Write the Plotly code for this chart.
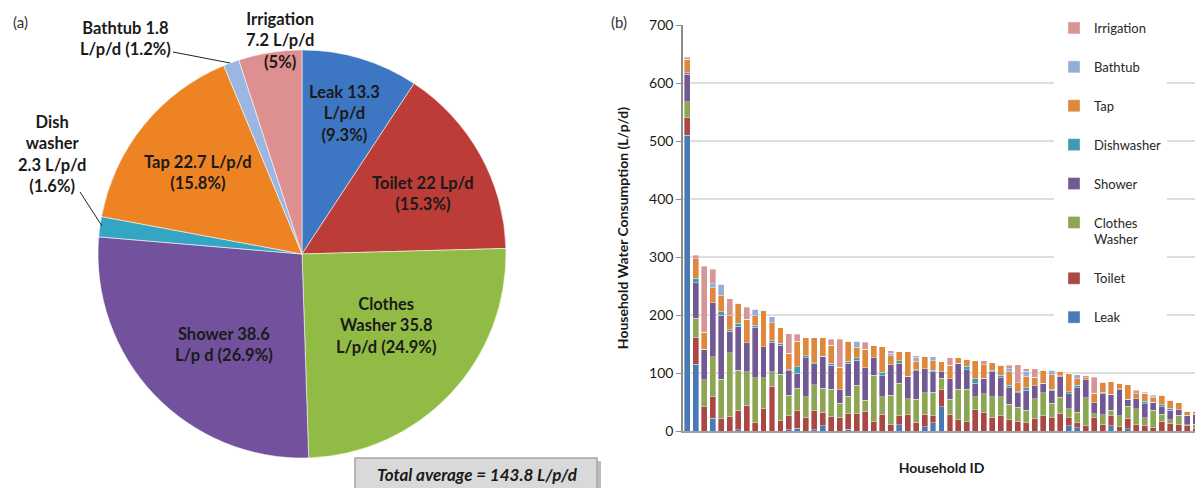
import plotly.graph_objects as go

# The page body adds an 8 px margin; the figure is sized so that it ends at the window edge
OFF = 8
W, H = 1203 - OFF, 488 - OFF

# ---------------- Pie data (a) ----------------
pie_labels = ["Leak", "Toilet", "Clothes Washer", "Shower", "Dishwasher", "Tap", "Bathtub", "Irrigation"]
pie_values = [13.3, 22.0, 35.8, 38.6, 2.3, 22.7, 1.8, 7.2]
pie_text = [
    "Leak 13.3<br>L/p/d<br>(9.3%)",
    "Toilet 22 Lp/d<br>(15.3%)",
    "Clothes<br>Washer 35.8<br>L/p/d (24.9%)",
    "Shower 38.6<br>L/p d (26.9%)",
    "Dish<br>washer<br>2.3 L/p/d<br>(1.6%)",
    "Tap 22.7 L/p/d<br>(15.8%)",
    "Bathtub 1.8<br>L/p/d (1.2%)",
    "Irrigation<br>7.2 L/p/d<br>(5%)",
]
total_text = "Total average = 143.8 L/p/d"

# ---------------- Bar data (b) ----------------
households = list(range(1, 62))
leak = [510, 115, 0, 22, 0, 0, 2, 0, 0, 0, 0, 0, 2, 5, 0,
        2, 9, 0, 0, 3, 0, 0, 0, 0, 0, 11, 0, 0, 7, 14,
        42, 0, 0, 0, 0, 0, 0, 0, 0, 0, 0, 0, 0, 0, 0,
        9, 6, 0, 0, 0, 9, 0, 4, 0, 0, 0, 0, 0, 0, 0, 0]
toilet = [30, 46, 42, 37, 21, 25, 34, 44, 14, 39, 77, 18, 24, 30, 23,
          33, 23, 25, 23, 27, 30, 34, 16, 29, 11, 15, 28, 15, 22, 12,
          29, 29, 19, 16, 37, 32, 23, 26, 19, 17, 14, 21, 26, 23, 30,
          14, 8, 9, 23, 11, 17, 7, 18, 11, 10, 6, 16, 13, 11, 9, 5]
clothes = [28, 33, 46, 69, 68, 110, 69, 58, 78, 53, 25, 80, 36, 39, 36,
           45, 42, 47, 25, 30, 49, 19, 80, 30, 51, 56, 28, 40, 37, 41,
           20, 26, 53, 56, 22, 32, 36, 33, 27, 24, 22, 35, 40, 25, 28,
           15, 18, 48, 7, 17, 10, 19, 21, 27, 13, 30, 13, 6, 16, 2, 7]
shower = [47, 62, 53, 93, 111, 37, 76, 50, 87, 53, 51, 50, 42, 26, 67,
          36, 55, 41, 23, 57, 43, 56, 30, 36, 52, 35, 38, 49, 41, 35,
          11, 35, 45, 34, 23, 27, 43, 33, 29, 25, 34, 22, 16, 22, 36,
          26, 43, 31, 19, 37, 27, 45, 12, 18, 24, 14, 13, 17, 10, 15, 17]
dishwasher = [3, 7, 0, 0, 6, 3, 5, 0, 3, 0, 3, 3, 2, 11, 4,
              2, 0, 4, 0, 3, 4, 0, 0, 6, 0, 4, 0, 2, 0, 3,
              0, 0, 0, 6, 8, 0, 3, 4, 4, 2, 5, 0, 0, 2, 1,
              4, 4, 0, 0, 2, 0, 2, 0, 0, 4, 0, 3, 3, 0, 1, 1]
tap = [23, 34, 29, 26, 28, 24, 34, 41, 17, 63, 31, 27, 28, 44, 31,
       43, 32, 31, 39, 35, 18, 32, 21, 44, 16, 16, 43, 14, 21, 16,
       17, 23, 9, 12, 31, 23, 13, 17, 23, 15, 19, 15, 23, 25, 8,
       32, 11, 4, 16, 17, 22, 9, 25, 8, 14, 7, 17, 14, 12, 7, 4]
bathtub = [0, 0, 0, 7, 19, 0, 0, 0, 11, 0, 10, 0, 0, 0, 0,
           0, 0, 0, 0, 0, 11, 0, 0, 0, 4, 0, 0, 7, 0, 7,
           0, 0, 0, 0, 0, 0, 0, 0, 5, 0, 9, 0, 0, 8, 0,
           0, 7, 0, 0, 0, 0, 0, 0, 0, 0, 2, 0, 0, 0, 0, 0]
irrigation = [3, 6, 114, 25, 0, 29, 0, 20, 0, 0, 0, 0, 34, 12, 0,
              0, 0, 10, 48, 0, 0, 12, 0, 0, 4, 0, 0, 3, 0, 0,
              0, 13, 0, 0, 0, 7, 0, 0, 6, 31, 4, 14, 0, 0, 0,
              0, 0, 3, 28, 0, 0, 0, 0, 6, 2, 3, 0, 0, 0, 0, 0]

series_names = ["Leak", "Toilet", "Clothes<br>Washer", "Shower", "Dishwasher", "Tap", "Bathtub", "Irrigation"]
series_values = [leak, toilet, clothes, shower, dishwasher, tap, bathtub, irrigation]
bar_colors = ["#4a7ab5", "#ab4744", "#8ca653", "#735994", "#3f9bb2", "#e0873e", "#94aed6", "#d79594"]
pie_colors = ["#3d76c2", "#bc3c38", "#92bb45", "#72529c", "#35a5c4", "#ee8323", "#9bb6e0", "#de8f8f"]

def px(x):
    # window pixel -> paper fraction
    return (x - OFF) / W

def py(y):
    return 1 - (y - OFF) / H

FONT = "Lato, 'Open Sans', sans-serif"
TXT = "#1a1a1a"

fig = go.Figure()

# Pie centred at (302, 254), radius 204 px (window pixels)
fig.add_trace(go.Pie(
    labels=pie_labels, values=pie_values, sort=False, direction="clockwise", rotation=0,
    textinfo="none", hoverinfo="label+value+percent", showlegend=False,
    marker=dict(colors=pie_colors, line=dict(color="rgba(255,255,255,0.55)", width=1)),
    domain=dict(x=[px(98), px(506)], y=[py(458), py(50)]),
))

n = len(series_names)
for i, (name, vals, col) in enumerate(zip(series_names, series_values, bar_colors)):
    fig.add_trace(go.Bar(
        x=households, y=vals, name=name, legendgroup=name, legendrank=n - i,
        marker=dict(color=col, line=dict(color="rgba(255,255,255,0.6)", width=0.6)),
        xaxis="x", yaxis="y",
    ))

# Pie labels
label_pos = [
    (344, 113), (423, 194), (386, 325), (224, 344),
    (52, 154), (198, 172), (125, 39), (280, 41),
]
annotations = []
for t, (x, y) in zip(pie_text, label_pos):
    annotations.append(dict(
        x=px(x), y=py(y), xref="paper", yref="paper", text="<b>" + t + "</b>",
        showarrow=False, xanchor="center", yanchor="middle",
        font=dict(family=FONT, size=16.5, color=TXT),
    ))

annotations += [
    dict(x=px(21), y=py(22), xref="paper", yref="paper", text="(a)", showarrow=False,
         xanchor="center", yanchor="middle",
         font=dict(family=FONT, size=15, color="#333333")),
    dict(x=px(619), y=py(22), xref="paper", yref="paper", text="(b)", showarrow=False,
         xanchor="center", yanchor="middle",
         font=dict(family=FONT, size=15, color="#333333")),
    dict(x=px(477), y=py(474), xref="paper", yref="paper", text="<b><i>" + total_text + "</i></b>",
         showarrow=False, xanchor="center", yanchor="middle",
         font=dict(family=FONT, size=17, color=TXT)),
]

shapes = [
    # leader lines
    dict(type="line", xref="paper", yref="paper", x0=px(173), y0=py(52), x1=px(230), y1=py(63),
         line=dict(color="#222222", width=1)),
    dict(type="line", xref="paper", yref="paper", x0=px(80), y0=py(192), x1=px(102), y1=py(226),
         line=dict(color="#222222", width=1)),
    # total box shadow + box
    dict(type="rect", xref="paper", yref="paper", x0=px(358), y0=py(492), x1=px(601), y1=py(461),
         fillcolor="#bdbdbd", line=dict(width=0), layer="below"),
    dict(type="rect", xref="paper", yref="paper", x0=px(355), y0=py(492), x1=px(597), y1=py(458),
         fillcolor="#d9d9d9", line=dict(color="#a6a6a6", width=1.5), layer="below"),
]

fig.update_layout(
    template="none",
    width=W, height=H, autosize=False,
    margin=dict(l=0, r=0, t=0, b=0, pad=0),
    paper_bgcolor="white", plot_bgcolor="white",
    barmode="stack", bargap=0.3,
    font=dict(family=FONT, color=TXT),
    annotations=annotations, shapes=shapes,
    xaxis=dict(
        domain=[px(683), px(1200)], anchor="y", automargin=False,
        range=[0.5, 61.5], showticklabels=False, ticks="", showgrid=False, zeroline=False,
        showline=True, linecolor="#a0a0a0", linewidth=1.5,
        title=dict(text="<b>Household ID</b>", font=dict(family=FONT, size=14, color=TXT), standoff=31),
    ),
    yaxis=dict(
        domain=[py(431), py(25)], anchor="x", automargin=False,
        range=[0, 700], dtick=100, tickformat="d",
        showgrid=True, gridcolor="#dedede", gridwidth=2, zeroline=False,
        showline=True, linecolor="#8c8c8c", linewidth=1.5,
        ticks="outside", ticklen=5, tickcolor="#8c8c8c",
        tickfont=dict(family=FONT, size=14, color=TXT),
        title=dict(text="<b>Household Water Consumption (L/p/d)</b>",
                   font=dict(family=FONT, size=14, color=TXT), standoff=17),
    ),
    legend=dict(
        x=px(1054), y=py(13), xanchor="left", yanchor="top",
        bgcolor="white", borderwidth=0,
        traceorder="grouped", tracegroupgap=19, valign="top",
        font=dict(family=FONT, size=13, color="#262626"),
        itemwidth=30,
    ),
    showlegend=True,
)

fig.write_html("out.html")
